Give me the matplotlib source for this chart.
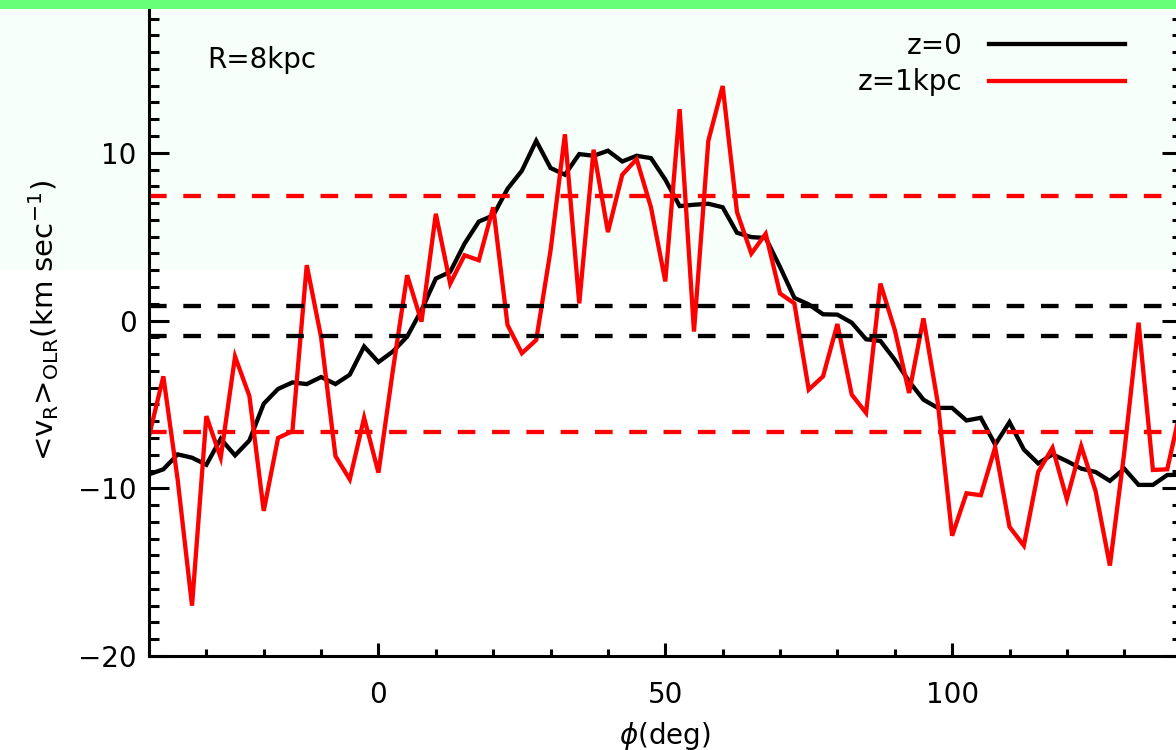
import matplotlib

matplotlib.use("Agg")
import matplotlib.pyplot as plt
from matplotlib.patches import Rectangle

plt.rcParams["font.family"] = ["DejaVu Sans"]
plt.rcParams["mathtext.fontset"] = "dejavusans"
plt.rcParams["lines.scale_dashes"] = False

# azimuth bins (deg)
phi = [-40.0, -37.5, -35.0, -32.5, -30.0, -27.5, -25.0, -22.5, -20.0, -17.5,
       -15.0, -12.5, -10.0, -7.5, -5.0, -2.5, 0.0, 2.5, 5.0, 7.5,
       10.0, 12.5, 15.0, 17.5, 20.0, 22.5, 25.0, 27.5, 30.0, 32.5,
       35.0, 37.5, 40.0, 42.5, 45.0, 47.5, 50.0, 52.5, 55.0, 57.5,
       60.0, 62.5, 65.0, 67.5, 70.0, 72.5, 75.0, 77.5, 80.0, 82.5,
       85.0, 87.5, 90.0, 92.5, 95.0, 97.5, 100.0, 102.5, 105.0, 107.5,
       110.0, 112.5, 115.0, 117.5, 120.0, 122.5, 125.0, 127.5, 130.0, 132.5,
       135.0, 137.5, 140.0]

vr_z0 = [-9.17, -8.87, -7.98, -8.18, -8.6, -7.05, -8.04, -7.15, -4.96, -4.08,
         -3.69, -3.79, -3.37, -3.79, -3.23, -1.55, -2.48, -1.85, -0.96, 0.62,
         2.5, 2.9, 4.58, 5.9, 6.26, 7.85, 8.93, 10.71, 9.09, 8.69,
         9.92, 9.82, 10.12, 9.48, 9.82, 9.68, 8.4, 6.82, 6.9, 6.96,
         6.75, 5.23, 4.97, 4.92, 3.19, 1.35, 0.96, 0.37, 0.35, -0.13,
         -1.12, -1.22, -2.34, -3.63, -4.72, -5.21, -5.21, -5.96, -5.8, -7.4,
         -6.06, -7.69, -8.52, -7.98, -8.38, -8.83, -9.03, -9.56, -8.83, -9.8,
         -9.8, -9.21, -9.2]

vr_z1 = [-6.9, -3.33, -9.5, -17.0, -5.7, -8.18, -2.15, -4.5, -11.35, -7.0,
         -6.6, 3.3, -1.0, -8.08, -9.47, -5.8, -9.07, -3.0, 2.7, -0.07,
         6.36, 2.2, 3.89, 3.59, 6.75, -0.27, -1.95, -1.16, 4.18, 11.1,
         1.02, 10.18, 5.27, 8.69, 9.62, 6.75, 2.33, 12.6, -0.66, 10.71,
         13.98, 6.46, 3.99, 5.17, 1.61, 1.02, -4.12, -3.33, -0.21, -4.42,
         -5.51, 2.2, -0.56, -4.32, 0.13, -4.91, -12.83, -10.3, -10.42, -7.56,
         -12.3, -13.42, -9.03, -7.59, -10.65, -7.49, -10.16, -14.61, -7.88, -0.13,
         -8.91, -8.87, -5.0]

# noise levels
z0_band = [0.86, -0.92]
z1_band = [7.45, -6.66]

fig = plt.figure(figsize=(11.76, 7.5), dpi=100)
fig.patches.append(Rectangle((0, 1 - 270 / 750), 1, (270 - 9) / 750, transform=fig.transFigure,
                             facecolor="#f7fffa", edgecolor="none", zorder=-5))
fig.patches.append(Rectangle((0, 1 - 9 / 750), 1, 9 / 750, transform=fig.transFigure,
                             facecolor="#66ff77", edgecolor="none", zorder=10))

ax = fig.add_axes([149 / 1176, 94 / 750, 1032.6 / 1176, 671 / 750])
ax.set_facecolor("none")

ax.plot(phi, vr_z0, color="black", lw=3.1, label="z=0", solid_joinstyle="miter")
ax.plot(phi, vr_z1, color="#ff0000", lw=3.1, label="z=1kpc", solid_joinstyle="miter")
for v in z0_band:
    ax.axhline(v, color="black", lw=3.1, linestyle=(0, (12.7, 12.0)))
for v in z1_band:
    ax.axhline(v, color="#ff0000", lw=3.1, linestyle=(0, (12.7, 12.0)))

ax.set_xlim(-40, 140)
ax.set_ylim(-20, 20)
ax.set_xticks([0, 50, 100])
ax.set_xticks(range(-40, 141, 10), minor=True)
ax.set_yticks([-20, -10, 0, 10])
ax.set_yticks(range(-20, 21), minor=True)

for s in ax.spines.values():
    s.set_linewidth(2.2)
ax.tick_params(axis="both", which="both", direction="in", top=True, right=True, width=2.2,
               labelsize=20, colors="black")
ax.tick_params(axis="y", which="major", length=14.4, pad=9)
ax.tick_params(axis="y", which="minor", length=7.2)
ax.tick_params(axis="x", which="major", length=9.4, pad=18)
ax.tick_params(axis="x", which="minor", length=4.7)

ax.set_xlabel(r"$\phi$(deg)", fontsize=20)
ax.set_ylabel(r"<v$_\mathregular{R}$>$_\mathregular{OLR}$(km sec$^{-1}$)", fontsize=21)
ax.xaxis.set_label_coords(0.5, -0.095)
ax.yaxis.set_label_coords(-0.085, 0.5)

ax.text(0.056, 0.888, "R=8kpc", transform=ax.transAxes, fontsize=20, ha="left", va="center")

ax.legend(loc="upper right", bbox_to_anchor=(0.945, 0.93), frameon=False, fontsize=20,
          markerfirst=False, handlelength=4.9, handletextpad=0.94, labelspacing=0.3,
          borderaxespad=0, borderpad=0)

fig.savefig("out.png", dpi=100)
